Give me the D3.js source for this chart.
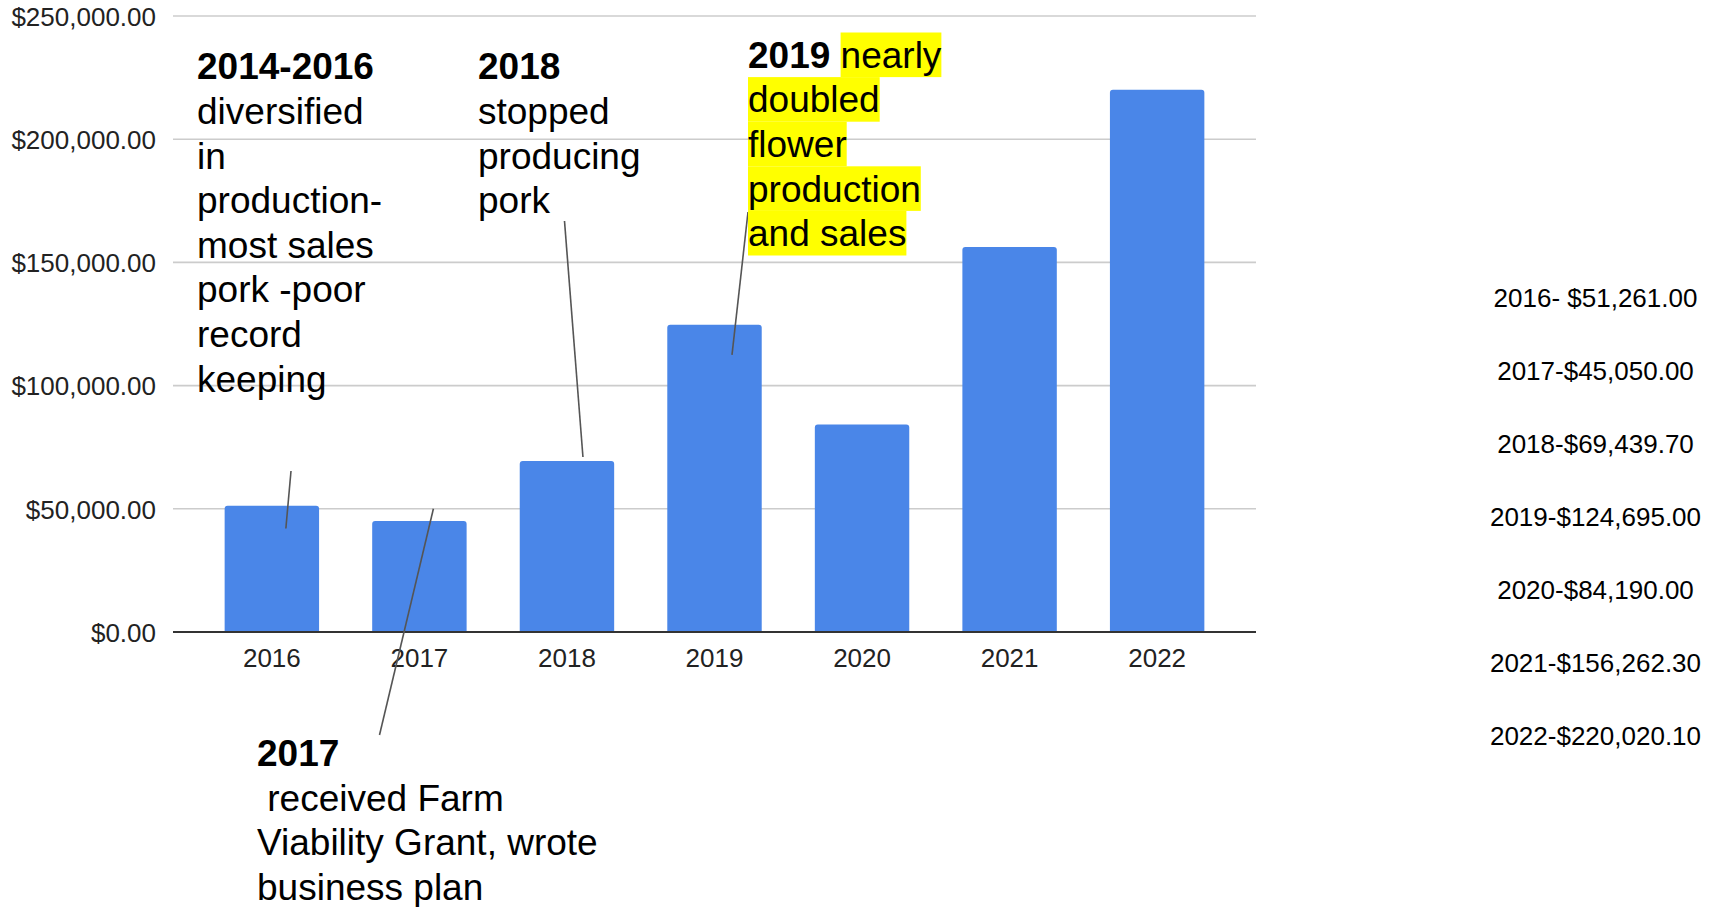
<!DOCTYPE html>
<html>
<head>
<meta charset="utf-8">
<script src="https://cdn.jsdelivr.net/npm/d3@7"></script>
<style>
  html, body { margin: 0; padding: 0; background: #fff; }
  svg { display: block; font-family: "Liberation Sans", Arial, sans-serif; }
  text { white-space: pre; }
</style>
</head>
<body>
<svg id="chart" width="1715" height="907"></svg>
<script>
// Yearly farm sales
const years = ["2016", "2017", "2018", "2019", "2020", "2021", "2022"];
const sales = [51261.00, 45050.00, 69439.70, 124695.00, 84190.00, 156262.30, 220020.10];
const yTicks = [0, 50000, 100000, 150000, 200000, 250000];
const salesList = [
  "2016- $51,261.00",
  "2017-$45,050.00",
  "2018-$69,439.70",
  "2019-$124,695.00",
  "2020-$84,190.00",
  "2021-$156,262.30",
  "2022-$220,020.10"
];

// Timeline notes: text lines (segments may be bold or highlighted)
const noteLines2016 = [
  [{ t: "2014-2016", bold: true }],
  [{ t: "diversified" }], [{ t: "in" }], [{ t: "production-" }],
  [{ t: "most sales" }], [{ t: "pork -poor" }], [{ t: "record" }], [{ t: "keeping" }]
];
const noteLines2018 = [
  [{ t: "2018", bold: true }],
  [{ t: "stopped" }], [{ t: "producing" }], [{ t: "pork" }]
];
const noteLines2019 = [
  [{ t: "2019", bold: true }, { t: " " }, { t: "nearly", hl: true }],
  [{ t: "doubled", hl: true }], [{ t: "flower", hl: true }],
  [{ t: "production", hl: true }], [{ t: "and sales", hl: true }]
];
const noteLines2017 = [
  [{ t: "2017", bold: true }],
  [{ t: " received Farm" }], [{ t: "Viability Grant, wrote" }], [{ t: "business plan" }]
];

const svg = d3.select("#chart");
const W = 1715, H = 907;
svg.append("rect").attr("width", W).attr("height", H).attr("fill", "#fff");

const plot = { left: 173, right: 1256, top: 16, bottom: 632 };

const x = d3.scaleBand()
  .domain(years)
  .range([plot.left, plot.right])
  .paddingInner(0.36)
  .paddingOuter(0.35);

const y = d3.scaleLinear()
  .domain([0, 250000])
  .range([plot.bottom, plot.top]);

// Gridlines
svg.append("g")
  .selectAll("line")
  .data(yTicks.filter(d => d > 0))
  .join("line")
  .attr("x1", plot.left).attr("x2", plot.right)
  .attr("y1", d => y(d)).attr("y2", d => y(d))
  .attr("stroke", "#cccccc")
  .attr("stroke-width", 1.6);

// Y axis labels
const yAxis = d3.axisLeft(y)
  .tickValues(yTicks)
  .tickFormat(d3.format("$,.2f"))
  .tickSize(0)
  .tickPadding(0);
const gy = svg.append("g")
  .attr("transform", `translate(${plot.left - 17},0)`)
  .call(yAxis);
gy.select(".domain").remove();
gy.selectAll("text")
  .attr("font-family", "'Liberation Sans', Arial, sans-serif")
  .attr("font-size", 26)
  .attr("fill", "#222")
  .attr("dy", "0.36em");

// Bars with slightly rounded top corners
function barPath(x0, y0, w, h, r) {
  r = Math.min(r, h, w / 2);
  return `M${x0},${y0 + h}V${y0 + r}Q${x0},${y0} ${x0 + r},${y0}` +
         `H${x0 + w - r}Q${x0 + w},${y0} ${x0 + w},${y0 + r}V${y0 + h}Z`;
}
svg.append("g")
  .selectAll("path")
  .data(years.map((yr, i) => ({ yr, v: sales[i] })))
  .join("path")
  .attr("d", d => barPath(x(d.yr), y(d.v), x.bandwidth(), y(0) - y(d.v), 3))
  .attr("fill", "#4a86e8");

// Baseline
svg.append("line")
  .attr("x1", plot.left).attr("x2", plot.right)
  .attr("y1", y(0)).attr("y2", y(0))
  .attr("stroke", "#333")
  .attr("stroke-width", 2);

// X axis labels
const xAxis = d3.axisBottom(x).tickSize(0).tickPadding(0);
const gx = svg.append("g")
  .attr("transform", `translate(0,${y(0)})`)
  .call(xAxis);
gx.select(".domain").remove();
gx.selectAll("text")
  .attr("font-family", "'Liberation Sans', Arial, sans-serif")
  .attr("font-size", 26)
  .attr("fill", "#222")
  .attr("dy", null)
  .attr("y", 35);

// Leader lines: from a note to a point on its bar (data coordinates)
const leaders = [
  { x1: 291, y1: 471, yr: "2016", dx: 14, v: 42000 },
  { x1: 564.5, y1: 221, yr: "2018", dx: 16, v: 71000 },
  { x1: 748, y1: 212, yr: "2019", dx: 17.5, v: 112500 },
  { x1: 379.5, y1: 735, yr: "2017", dx: 14, v: 50000 }
];
svg.append("g")
  .selectAll("line")
  .data(leaders)
  .join("line")
  .attr("x1", d => d.x1).attr("y1", d => d.y1)
  .attr("x2", d => x(d.yr) + x.bandwidth() / 2 + d.dx)
  .attr("y2", d => y(d.v))
  .attr("stroke", "#555")
  .attr("stroke-width", 1.6);

// Notes
const noteFont = 37, noteLead = 44.6;
function drawNote(lines, x0, baseline0) {
  const g = svg.append("g");
  lines.forEach((segs, li) => {
    const by = baseline0 + li * noteLead;
    let cx = x0;
    segs.forEach(s => {
      const hlRect = s.hl ? g.append("rect") : null;
      const t = g.append("text")
        .attr("x", cx).attr("y", by)
        .attr("font-size", noteFont)
        .attr("font-weight", s.bold ? "bold" : "normal")
        .attr("fill", "#000")
        .text(s.t);
      const w = t.node().getComputedTextLength();
      if (hlRect) {
        hlRect.attr("x", cx).attr("y", by - 35.2)
          .attr("width", w).attr("height", noteLead)
          .attr("fill", "#ffff00");
      }
      cx += w;
    });
  });
}
drawNote(noteLines2016, 197, 79.3);
drawNote(noteLines2018, 478, 79.3);
drawNote(noteLines2019, 748, 67.7);
drawNote(noteLines2017, 257, 766);

// Yearly totals list
svg.append("g")
  .selectAll("text")
  .data(salesList)
  .join("text")
  .attr("x", 1595.5)
  .attr("y", (d, i) => 306.5 + i * 73.1)
  .attr("text-anchor", "middle")
  .attr("font-size", 26)
  .attr("fill", "#000")
  .text(d => d);
</script>
</body>
</html>
